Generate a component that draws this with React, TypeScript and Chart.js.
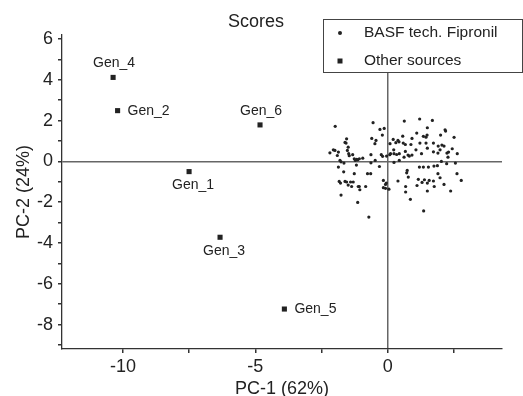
import React, { useEffect, useRef } from "react";
import { Chart, registerables } from "chart.js";

Chart.register(...registerables);

const FONT = "'Liberation Sans', Arial, Helvetica, sans-serif";

const chartTitle = "Scores";
const xTitle = "PC-1 (62%)";
const yTitle = "PC-2 (24%)";
const seriesNames = ["BASF tech. Fipronil", "Other sources"];

const xMajorTicks = [-10, -5, 0];
const xMinorTicks = [-7.5, -2.5, 2.5];
const yMajorTicks = [-8, -6, -4, -2, 0, 2, 4, 6];
const yMinorTicks = [-9, -7, -5, -3, -1, 1, 3, 5];

const otherNames = ["Gen_1", "Gen_2", "Gen_3", "Gen_4", "Gen_5", "Gen_6"];
const otherX = [-7.5, -10.2, -6.33, -10.37, -3.9, -4.82];
const otherY = [-0.5, 2.49, -3.72, 4.12, -7.24, 1.79];
const otherLabelSide = ["below", "right", "below", "above", "right", "above"];

const basfX = [
  -1.98, -0.55, -0.29, -0.13, -0.6, -0.44, -0.48, -0.2, 0.63, 1.21, 1.69, 1.5, 2.17, 2.19, 2.0, 2.51,
  1.35, 1.45, 1.49, 1.1, 0.57, 0.92, 0.39, 0.43, 0.21, 0.31, 0.09, 0.59, 0.67, 1.22, 1.45, 0.88,
  1.73, 1.91, 2.05, 2.13, 2.24, 2.3, 2.44, 2.63, 2.28, 1.98, 1.9, 1.73, 1.5, 1.07, 1.28, 0.92,
  0.77, 0.67, 0.82, 0.62, 0.23, 0.44, 0.34, 0.24, 0.11, 0.08, 0.24, 0.44, -0.04, -0.24, -0.19, -0.63,
  -0.94, -1.07, -1.17, -1.22, -1.26, -1.13, -1.32, -1.45, -1.52, -1.49, -1.57, -1.55, -1.61, -1.47, -1.8, -1.76,
  -1.65, -1.86, -1.9, -2.05, -2.18, -1.99, -1.86, -1.66, -1.26, -0.63, -0.47, -0.31, -1.18, -0.76, -0.64, -0.16,
  -0.08, -0.16, -0.08, 0.05, -0.05, 0.39, 0.74, 0.72, 0.78, 1.2, 1.35, 1.54, 1.75, 1.88, 2.03, 2.23,
  2.56, 1.9, 1.98, 1.73, 1.76, 1.57, 1.5, 1.39, 1.3, 1.16, 1.11, 1.5, 2.13, 2.62, 2.78, 2.38,
  0.68, 0.68, 0.86, 1.36, -0.71, -1.13, -1.76, -1.83, -1.78, -1.61, -1.55, -1.4, -1.3, -1.49, -1.36, -1.07,
  -1.05, -1.11, -0.83,
];
const basfY = [
  1.72, 1.9, 1.57, 1.62, 1.13, 1.03, 0.87, 1.29, 1.98, 2.08, 2.01, 1.65, 1.55, 1.49, 1.29, 1.18,
  1.23, 1.19, 1.29, 1.39, 1.24, 1.13, 1.03, 0.96, 1.08, 0.92, 0.87, 0.9, 0.83, 0.9, 0.9, 0.83,
  0.9, 0.75, 0.8, 0.75, 0.41, 0.46, 0.62, 0.38, 0.21, 0.57, 0.41, 0.47, 0.65, 0.57, 0.38, 0.31,
  0.31, 0.49, 0.26, 0.21, 0.57, 0.38, 0.34, 0.38, 0.38, 0.33, -0.05, 0.05, 0.26, 0.33, 0.25, 0.33,
  0.16, 0.13, 0.1, 0.05, 0.13, 0.08, 0.33, 0.28, 0.54, 0.7, 0.9, 1.11, 0.93, 0.38, 0.05, -0.02,
  -0.08, 0.46, 0.29, 0.57, 0.42, 0.54, -0.28, -0.51, -0.6, -0.07, 0.05, -0.25, -0.18, -0.6, -0.6, -0.93,
  -1.13, -1.29, -1.32, -1.36, -1.06, -0.96, -0.44, -0.56, -0.77, -0.28, -0.28, -0.28, -0.23, -0.21, 0.0, -0.11,
  -0.08, -0.6, -0.8, -0.96, -1.23, -0.93, -1.06, -0.9, -1.03, -0.88, -1.18, -1.45, -1.13, -0.6, -0.93, -1.45,
  -1.23, -1.5, -1.86, -2.43, -2.73, -2.01, -1.65, -0.98, -1.06, -0.98, -1.01, -1.01, -1.01, -1.16, -1.23, -1.23,
  -1.39, -1.23, -1.23,
];

const INK = "#222";

const overlayPlugin = {
  id: "overlay",
  afterDraw(chart: any) {
    const ctx = chart.ctx as CanvasRenderingContext2D;
    ctx.save();
    ctx.fillStyle = INK;
    // title
    ctx.font = `18px ${FONT}`;
    ctx.textAlign = "center";
    ctx.textBaseline = "middle";
    ctx.fillText(chartTitle, 256, 22);

    // point labels
    const meta = chart.getDatasetMeta(1);
    ctx.font = `14px ${FONT}`;
    meta.data.forEach((el: any, i: number) => {
      const side = otherLabelSide[i];
      const name = otherNames[i];
      if (side === "above") {
        ctx.textAlign = "center";
        ctx.fillText(name, el.x + 1, el.y - 14);
      } else if (side === "below") {
        ctx.textAlign = "center";
        ctx.fillText(name, el.x + 4, el.y + 14);
      } else {
        ctx.textAlign = "left";
        ctx.fillText(name, el.x + 10, el.y);
      }
    });

    // legend box
    ctx.fillStyle = "#fff";
    ctx.fillRect(323.5, 19.5, 199, 53);
    ctx.strokeStyle = "#444";
    ctx.lineWidth = 1;
    ctx.strokeRect(323.5, 19.5, 199, 53);
    ctx.fillStyle = INK;
    ctx.font = `15.5px ${FONT}`;
    ctx.textAlign = "left";
    ctx.beginPath();
    ctx.arc(340, 33, 2, 0, Math.PI * 2);
    ctx.fill();
    ctx.fillText(chart.data.datasets[0].label, 364, 33);
    ctx.fillRect(337.5, 58.5, 5, 5);
    ctx.fillText(chart.data.datasets[1].label, 364, 61);
    ctx.restore();
  },
};

export default function App() {
  const ref = useRef<HTMLCanvasElement | null>(null);
  useEffect(() => {
    document.body.style.margin = "0";
    const canvas = ref.current!;
    const basf = basfX.map((x, i) => ({ x, y: basfY[i] }));
    const other = otherX.map((x, i) => ({ x, y: otherY[i] }));
    const gridColor = (c: any) => (c.tick && c.tick.value === 0 ? "#666" : "rgba(0,0,0,0)");
    const xTicks = [...xMajorTicks, ...xMinorTicks].sort((a, b) => a - b);
    const yTicks = [...yMajorTicks, ...yMinorTicks].sort((a, b) => a - b);
    const chart = new Chart(canvas, {
      type: "scatter",
      data: {
        datasets: [
          {
            label: seriesNames[0],
            data: basf,
            pointStyle: "circle",
            pointRadius: 1.6,
            pointBackgroundColor: INK,
            pointBorderWidth: 0,
          },
          {
            label: seriesNames[1],
            data: other,
            pointStyle: "rect",
            pointRadius: 3.6,
            pointBackgroundColor: INK,
            pointBorderWidth: 0,
          },
        ],
      },
      options: {
        animation: false,
        responsive: false,
        devicePixelRatio: 1,
        layout: { padding: { top: 35, right: 21, left: 0, bottom: 0 } },
        plugins: { legend: { display: false }, title: { display: false }, tooltip: { enabled: false } },
        scales: {
          x: {
            type: "linear",
            min: -12.3,
            max: 4.32,
            bounds: "data",
            afterBuildTicks: (s: any) => {
              s.ticks = xTicks.map((v) => ({ value: v }));
            },
            border: { color: "#333", width: 1.3 },
            grid: { drawOnChartArea: true, color: gridColor, lineWidth: 1.5, tickColor: "#333", tickLength: 4 },
            ticks: {
              autoSkip: false,
              maxRotation: 0,
              padding: 3,
              color: INK,
              font: { size: 18, family: FONT },
              callback: (v: any) => (xMajorTicks.includes(v) ? String(v) : ""),
            },
            title: {
              display: true,
              text: xTitle,
              color: INK,
              font: { size: 18, family: FONT, lineHeight: 0.8 },
              padding: { top: 0, bottom: 0 },
            },
            afterFit: (s: any) => {
              s.height = 47;
            },
          },
          y: {
            type: "linear",
            min: -9.2,
            max: 6.2,
            bounds: "data",
            afterBuildTicks: (s: any) => {
              s.ticks = yTicks.map((v) => ({ value: v }));
            },
            border: { color: "#333", width: 1.3 },
            grid: { drawOnChartArea: true, color: gridColor, lineWidth: 1.5, tickColor: "#333", tickLength: 4 },
            ticks: {
              autoSkip: false,
              padding: 5,
              color: INK,
              font: { size: 18, family: FONT },
              callback: (v: any) => (yMajorTicks.includes(v) ? String(v) : ""),
            },
            title: {
              display: true,
              text: yTitle,
              color: INK,
              font: { size: 18, family: FONT, lineHeight: 1.2 },
              padding: { top: 13, bottom: 0 },
            },
            afterFit: (s: any) => {
              s.width = 62;
            },
          },
        },
      },
      plugins: [overlayPlugin],
    } as any);
    return () => chart.destroy();
  }, []);
  return (
    <div style={{ position: "fixed", left: 0, top: 0, width: 523, height: 396, background: "#fff" }}>
      <canvas ref={ref} width={523} height={396} />
    </div>
  );
}
